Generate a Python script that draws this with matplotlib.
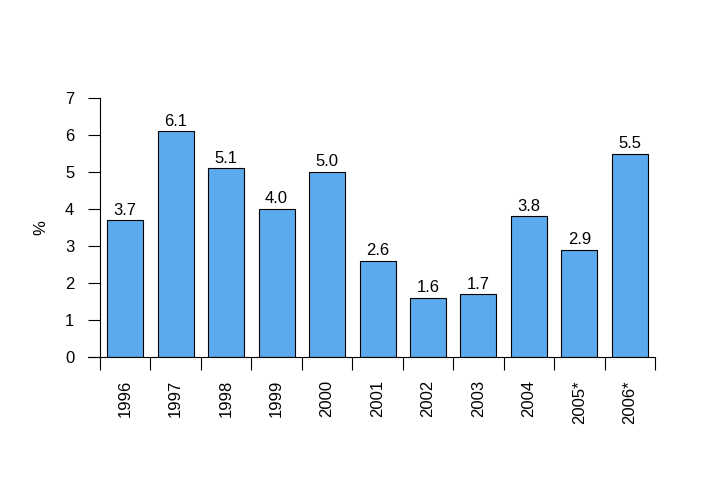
import matplotlib
matplotlib.use("Agg")
import matplotlib.pyplot as plt
import numpy as np

years = ["1996", "1997", "1998", "1999", "2000", "2001", "2002", "2003", "2004", "2005*", "2006*"]
values = [3.7, 6.1, 5.1, 4.0, 5.0, 2.6, 1.6, 1.7, 3.8, 2.9, 5.5]
y_ticks = [0, 1, 2, 3, 4, 5, 6, 7]

plt.rcParams['font.family'] = ['Liberation Sans', 'DejaVu Sans']

fig = plt.figure(figsize=(7.2, 4.8), dpi=100)
W, H = 720, 480
left_px, right_px = 88, 655
bot_px, top_px = 357, 98
ax = fig.add_axes([left_px / W, (H - bot_px) / H, (right_px - left_px) / W, (bot_px - top_px) / H])

n = len(years)
spacing = (right_px - 100) / n
x = np.arange(n) + 0.5
ax.bar(x, values, width=36 / spacing, color="#5AAAED", edgecolor="black", linewidth=0.8)
ax.set_xlim(-(100 - left_px) / spacing, n)
ax.set_ylim(0, 7)

for xi, v in zip(x, values):
    ax.text(xi, v + 0.15, f"{v:.1f}", ha="center", va="baseline", fontsize=12)

for s in ["top", "right"]:
    ax.spines[s].set_visible(False)
ax.spines["left"].set_position(("data", 0))
ax.spines["left"].set_bounds(0, 7)
ax.spines["bottom"].set_linewidth(0.8)
ax.spines["left"].set_linewidth(0.8)

ax.set_yticks(y_ticks)
ax.set_yticklabels([str(t) for t in y_ticks], fontsize=12)
ax.tick_params(axis="y", length=8.6, width=0.8, pad=10)

ax.set_xticks(np.arange(n + 1))
ax.set_xticklabels([])
ax.tick_params(axis="x", which="major", length=9.4, width=0.8)
ax.set_xticks(x, minor=True)
ax.set_xticklabels(years, minor=True, rotation=90, fontsize=12)
ax.tick_params(axis="x", which="minor", length=0, pad=16.5)

fig.text(41 / W, (H - 228) / H, "%", rotation=90, ha="center", va="center", fontsize=12)

fig.savefig("out.png", dpi=100)
